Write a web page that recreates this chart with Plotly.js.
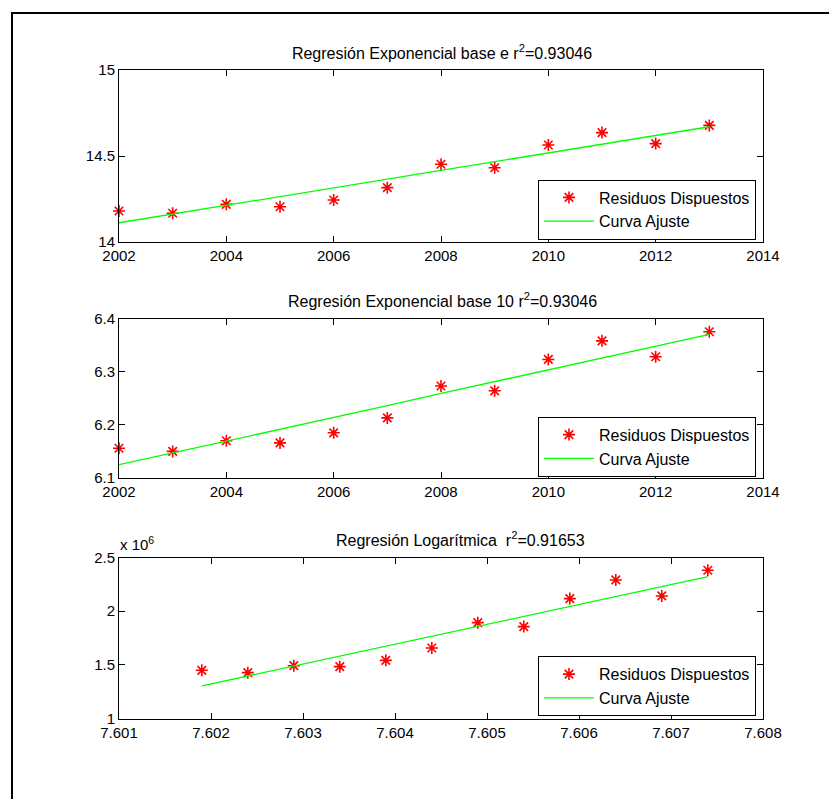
<!DOCTYPE html>
<html>
<head>
<meta charset="utf-8">
<script src="https://cdn.plot.ly/plotly-3.0.1.min.js"></script>
<style>
html,body{margin:0;padding:0;background:#fff;}
#chart{width:829px;height:799px;}
</style>
</head>
<body>
<div id="chart"></div>
<script>
// ---- data ----
const years = [2002, 2003, 2004, 2005, 2006, 2007, 2008, 2009, 2010, 2011, 2012, 2013];

// Subplot 1: ln of data
const lnPoints = [14.180, 14.167, 14.219, 14.205, 14.244, 14.316, 14.452, 14.432, 14.564, 14.636, 14.572, 14.678];
const lnFit    = [14.112, 14.163, 14.213, 14.264, 14.315, 14.366, 14.416, 14.467, 14.518, 14.568, 14.619, 14.670];

// Subplot 2: log10 of data
const log10Points = [6.156, 6.150, 6.170, 6.166, 6.185, 6.213, 6.273, 6.264, 6.323, 6.358, 6.328, 6.375];
const log10Fit    = [6.125, 6.147, 6.170, 6.192, 6.214, 6.236, 6.259, 6.281, 6.303, 6.326, 6.348, 6.370];

// Subplot 3: data vs ln(year)
const lnYears = [7.6019, 7.6024, 7.6029, 7.6034, 7.6039, 7.6044, 7.6049, 7.6054, 7.6059, 7.6064, 7.6069, 7.6074];
const rawPoints = [1449000, 1427000, 1492000, 1483000, 1542000, 1657000, 1893000, 1856000, 2117000, 2291000, 2142000, 2381000];
const rawFit    = [1303000, 1396000, 1488000, 1581000, 1674000, 1766000, 1859000, 1952000, 2044000, 2137000, 2230000, 2322000];

// tick labels
const yearTicks = [2002, 2004, 2006, 2008, 2010, 2012, 2014];
const y1Ticks = [14, 14.5, 15];
const y2Ticks = [6.1, 6.2, 6.3, 6.4];
const x3Ticks = [7.601, 7.602, 7.603, 7.604, 7.605, 7.606, 7.607, 7.608];
const x3Text = ['7.601', '7.602', '7.603', '7.604', '7.605', '7.606', '7.607', '7.608'];
const y3Ticks = [1000000, 1500000, 2000000, 2500000];
const y3Text = ['1', '1.5', '2', '2.5'];

const titles = [
  'Regresión Exponencial base e r<sup>2</sup>=0.93046',
  'Regresión Exponencial base 10 r<sup>2</sup>=0.93046',
  'Regresión Logarítmica  r<sup>2</sup>=0.91653'
];
const nameMarkers = 'Residuos Dispuestos';
const nameFit = 'Curva Ajuste';

// ---- layout constants ----
const W = 829, H = 799;
const FONT = 'Liberation Sans, Arial, sans-serif';
const FS = 15;
const FT = 16;
const px = v => v / W;
const py = v => 1 - v / H;

function markerTrace(x, y, xa, ya, leg) {
  return {
    x: x, y: y, xaxis: xa, yaxis: ya, type: 'scatter', mode: 'markers',
    name: nameMarkers, legend: leg, cliponaxis: false,
    marker: {symbol: 'asterisk-open', size: 10, color: '#ff0000', line: {color: '#ff0000', width: 1.6}}
  };
}
function lineTrace(x, y, xa, ya, leg) {
  return {
    x: x, y: y, xaxis: xa, yaxis: ya, type: 'scatter', mode: 'lines',
    name: nameFit, legend: leg,
    line: {color: '#00ff00', width: 1.3}
  };
}

const data = [
  markerTrace(years, lnPoints, 'x', 'y', 'legend'),
  lineTrace(years, lnFit, 'x', 'y', 'legend'),
  markerTrace(years, log10Points, 'x2', 'y2', 'legend2'),
  lineTrace(years, log10Fit, 'x2', 'y2', 'legend2'),
  markerTrace(lnYears, rawPoints, 'x3', 'y3', 'legend3'),
  lineTrace(lnYears, rawFit, 'x3', 'y3', 'legend3')
];

const axBase = {
  showline: true, linecolor: '#000', linewidth: 1, mirror: 'ticks',
  ticks: 'inside', ticklen: 6, tickcolor: '#000', tickwidth: 1,
  showgrid: false, zeroline: false, fixedrange: true,
  tickfont: {family: FONT, size: FS, color: '#000'}
};
const xDom = [px(119), px(763)];

function legendCfg(centerPx) {
  return {
    xref: 'paper', yref: 'paper', x: px(756), y: py(centerPx),
    xanchor: 'right', yanchor: 'middle',
    bgcolor: '#fff', bordercolor: '#000', borderwidth: 1,
    font: {family: FONT, size: FT, color: '#000'},
    itemwidth: 50, tracegroupgap: 0
  };
}

const layout = {
  width: W, height: H,
  margin: {l: 0, r: 0, t: 0, b: 0},
  paper_bgcolor: '#fff', plot_bgcolor: '#fff',
  showlegend: true,
  font: {family: FONT, size: FS, color: '#000'},
  title: {text: titles[0], x: px(442), xanchor: 'center', y: py(53), yanchor: 'middle',
          font: {family: FONT, size: FT, color: '#000'}},
  xaxis: Object.assign({}, axBase, {domain: xDom, anchor: 'y', range: [2002, 2014], tickvals: yearTicks}),
  yaxis: Object.assign({}, axBase, {domain: [py(242), py(70)], anchor: 'x', range: [14, 15], tickvals: y1Ticks}),
  xaxis2: Object.assign({}, axBase, {domain: xDom, anchor: 'y2', range: [2002, 2014], tickvals: yearTicks}),
  yaxis2: Object.assign({}, axBase, {domain: [py(478), py(318.5)], anchor: 'x2', range: [6.1, 6.4], tickvals: y2Ticks}),
  xaxis3: Object.assign({}, axBase, {domain: xDom, anchor: 'y3', range: [7.601, 7.608], tickvals: x3Ticks, ticktext: x3Text}),
  yaxis3: Object.assign({}, axBase, {domain: [py(718.5), py(557.5)], anchor: 'x3', range: [1000000, 2500000], tickvals: y3Ticks, ticktext: y3Text}),
  legend: legendCfg(209.5),
  legend2: legendCfg(446.7),
  legend3: legendCfg(686.2),
  annotations: [
    {text: titles[1], xref: 'paper', yref: 'paper', x: px(442), y: py(300), xanchor: 'center', yanchor: 'middle',
     showarrow: false, font: {family: FONT, size: FT, color: '#000'}},
    {text: titles[2], xref: 'paper', yref: 'paper', x: px(460), y: py(539), xanchor: 'center', yanchor: 'middle',
     showarrow: false, font: {family: FONT, size: FT, color: '#000'}},
    {text: 'x 10<sup>6</sup>', xref: 'paper', yref: 'paper', x: px(118), y: py(543), xanchor: 'left', yanchor: 'middle',
     showarrow: false, font: {family: FONT, size: FS, color: '#000'}}
  ],
  shapes: [
    {type: 'rect', xref: 'paper', yref: 'paper', x0: px(12), x1: 1.2, y0: -0.2, y1: py(13),
     line: {color: '#000', width: 2}, fillcolor: 'rgba(0,0,0,0)'}
  ]
};

Plotly.newPlot('chart', data, layout, {displayModeBar: false, staticPlot: true});
</script>
</body>
</html>
